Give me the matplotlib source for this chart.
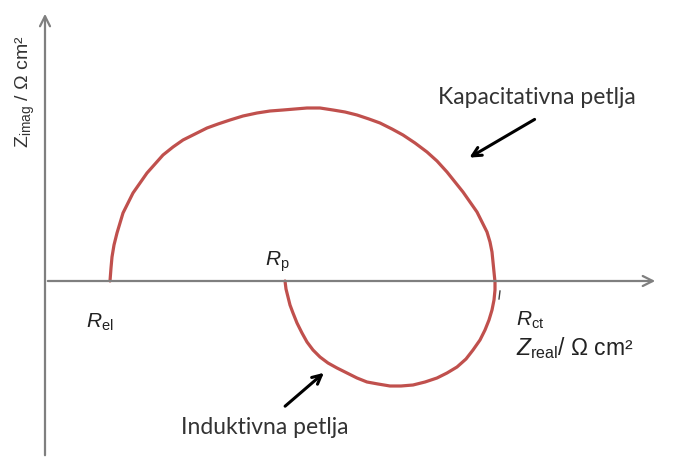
import numpy as np
import matplotlib
matplotlib.use('Agg')
import matplotlib.pyplot as plt

plt.rcParams['mathtext.fontset'] = 'custom'
plt.rcParams['mathtext.rm'] = 'Liberation Sans'
plt.rcParams['mathtext.it'] = 'Liberation Sans:italic'

# Nyquist curve (x = Z_real, y = -Z_imag, arbitrary units)
z_real = [65, 66, 67, 69, 72, 75, 78, 83, 88, 95, 102, 110, 118, 128, 138, 150,
          162, 173, 185, 198, 212, 225, 238, 250, 262, 275, 288, 300, 312, 324,
          335, 347, 358, 370, 382, 392, 402, 410, 418, 425, 432, 437, 442, 445,
          447, 448, 449, 450, 450, 449, 447, 444, 440, 435, 428, 421, 412, 402,
          392, 380, 368, 356, 345, 333, 322, 312, 302, 292, 283, 275, 268, 262,
          257, 252, 248, 245, 243, 241, 240]
z_imag = [0, 13, 24, 36, 48, 58, 68, 78, 88, 98, 108, 117, 126, 134, 141, 147,
          153, 157, 161, 165, 168, 170, 171, 172, 173, 173, 171, 169, 166, 162,
          158, 152, 146, 138, 129, 120, 109, 99, 89, 79, 69, 59, 49, 39,
          29, 19, 9, -1, -9, -19, -29, -39, -49, -59, -69, -78, -86, -92,
          -97, -101, -104, -105, -105, -103, -101, -97, -92, -87, -82, -76, -69, -61,
          -52, -42, -32, -24, -16, -8, 0]
r_el, r_p, r_ct = 65, 240, 450

fig = plt.figure(figsize=(6.81, 4.58), dpi=100)
ax = fig.add_axes([0, 0, 1, 1])
ax.set_xlim(-45, 636)
ax.set_ylim(-177, 281)
ax.axis('off')

grey = '#7f7f7f'
ax.annotate('', xy=(613, 0), xytext=(0, 0),
            arrowprops=dict(arrowstyle='->', color=grey, lw=1.6, mutation_scale=18))
ax.annotate('', xy=(0, 270), xytext=(0, -177),
            arrowprops=dict(arrowstyle='->', color=grey, lw=1.6, mutation_scale=18))

ax.plot(z_real, z_imag, color='#c0504d', lw=2.3, solid_capstyle='round',
        solid_joinstyle='round')
ax.plot([455, 454], [-10, -18], color='#404040', lw=1)

ax.text(-20, 189, r'$\mathrm{Z}_{\mathrm{imag}}$ / Ω cm²', rotation=90, ha='center',
        va='center', fontsize=14, family='Liberation Sans', color='#333333')
ax.text(r_el - 10, -41, r'$R_{\mathrm{el}}$', ha='center', va='center', fontsize=15,
        color='#222222')
ax.text(r_p - 8, 19, r'$R_{\mathrm{p}}$', ha='center', va='center', fontsize=15,
        color='#222222')
ax.text(r_ct + 21, -39, r'$R_{\mathrm{ct}}$', ha='left', va='center', fontsize=15,
        color='#222222')
ax.text(r_ct + 21, -67, r'$Z_{\mathrm{real}}$/ Ω cm²', ha='left', va='center',
        fontsize=16.5, family='Liberation Sans', color='#222222')

ax.text(492, 183, 'Kapacitativna petlja', ha='center', va='center', fontsize=16.5,
        family='Lato', color='#333333')
ax.annotate('', xy=(422, 122), xytext=(492, 163),
            arrowprops=dict(arrowstyle='->', color='black', lw=2.2, mutation_scale=16))
ax.text(220, -147, 'Induktivna petlja', ha='center', va='center', fontsize=16.5,
        family='Lato', color='#333333')
ax.annotate('', xy=(281, -90), xytext=(238, -127),
            arrowprops=dict(arrowstyle='->', color='black', lw=2.2, mutation_scale=16))

fig.savefig('out.png', dpi=100)
